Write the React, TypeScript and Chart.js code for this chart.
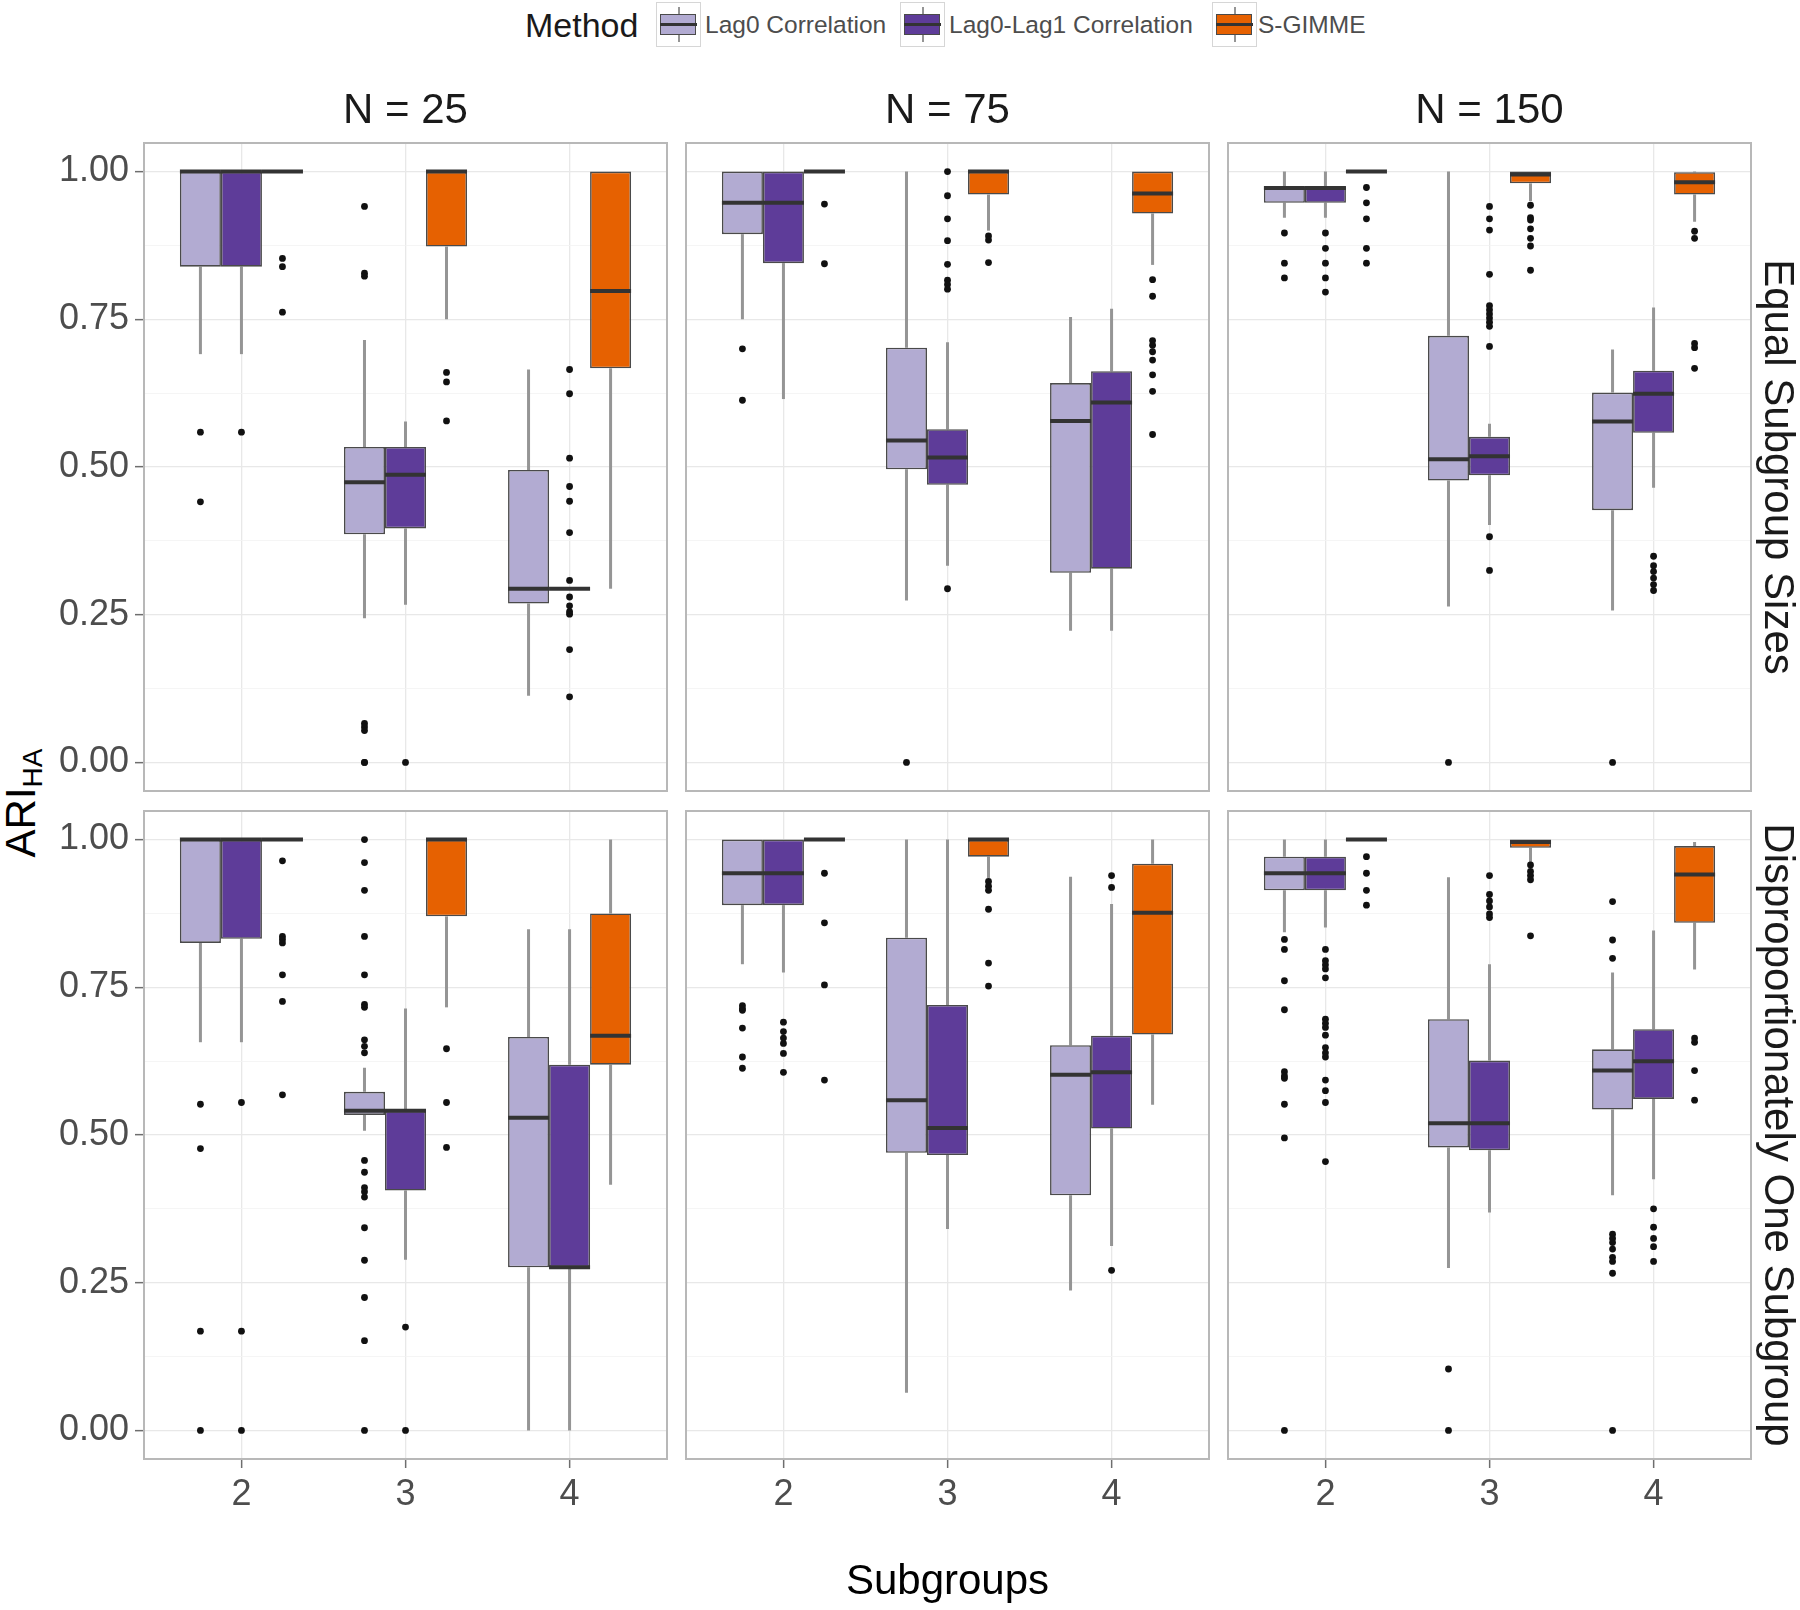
import React, { useEffect, useRef } from 'react';
import { Chart, registerables } from 'chart.js';

Chart.register(...registerables);

// ---------------- data ----------------
const subgroups = [2, 3, 4];
const methods = ['Lag0 Correlation', 'Lag0-Lag1 Correlation', 'S-GIMME'];
const sampleSizes = ['N = 25', 'N = 75', 'N = 150'];
const conditions = ['Equal Subgroup Sizes', 'Disproportionately One Subgroup'];
const yTickValues = [0, 0.125, 0.25, 0.375, 0.5, 0.625, 0.75, 0.875, 1];

// each entry per subgroup: [lower whisker, Q1, median, Q3, upper whisker]
// Equal subgroup sizes, N = 25
const eq25Lag0 = [[0.691, 0.839, 1, 1, 1], [0.244, 0.386, 0.474, 0.534, 0.715], [0.113, 0.269, 0.294, 0.495, 0.665]];
const eq25Lag0Out = [[0.559, 0.441], [0.941, 0.828, 0.823, 0.066, 0.06, 0.054, 0, 0], []];
const eq25Lag01 = [[0.691, 0.839, 1, 1, 1], [0.267, 0.396, 0.487, 0.534, 0.577], [0.294, 0.294, 0.294, 0.294, 0.294]];
const eq25Lag01Out = [[0.559], [0], [0.665, 0.624, 0.515, 0.467, 0.442, 0.389, 0.308, 0.28, 0.265, 0.255, 0.251, 0.191, 0.111]];
const eq25Sg = [[1, 1, 1, 1, 1], [0.75, 0.873, 1, 1, 1], [0.294, 0.667, 0.798, 1, 1]];
const eq25SgOut = [[0.853, 0.839, 0.762], [0.66, 0.644, 0.578], []];

// Equal subgroup sizes, N = 75
const eq75Lag0 = [[0.75, 0.894, 0.947, 1, 1], [0.274, 0.496, 0.545, 0.702, 1], [0.223, 0.321, 0.578, 0.642, 0.754]];
const eq75Lag0Out = [[0.7, 0.613], [0], []];
const eq75Lag01 = [[0.615, 0.845, 0.947, 1, 1], [0.333, 0.47, 0.516, 0.564, 0.711], [0.223, 0.328, 0.609, 0.662, 0.768]];
const eq75Lag01Out = [[], [1, 0.959, 0.92, 0.883, 0.843, 0.816, 0.809, 0.801, 0.294], []];
const eq75Sg = [[1, 1, 1, 1, 1], [0.9, 0.961, 1, 1, 1], [0.842, 0.929, 0.963, 1, 1]];
const eq75SgOut = [[0.945, 0.844], [0.891, 0.884, 0.846], [0.817, 0.789, 0.714, 0.706, 0.695, 0.681, 0.656, 0.628, 0.555]];

// Equal subgroup sizes, N = 150
const eq150Lag0 = [[0.922, 0.947, 0.972, 0.974, 1], [0.264, 0.477, 0.513, 0.722, 1], [0.257, 0.427, 0.577, 0.626, 0.699]];
const eq150Lag0Out = [[0.896, 0.845, 0.82], [0], [0]];
const eq150Lag01 = [[0.922, 0.947, 0.972, 0.974, 1], [0.402, 0.486, 0.518, 0.551, 0.573], [0.465, 0.558, 0.624, 0.663, 0.77]];
const eq150Lag01Out = [[0.896, 0.87, 0.845, 0.82, 0.796], [0.941, 0.92, 0.901, 0.826, 0.773, 0.766, 0.759, 0.752, 0.745, 0.738, 0.704, 0.382, 0.325], [0.349, 0.333, 0.323, 0.312, 0.301, 0.291]];
const eq150Sg = [[1, 1, 1, 1, 1], [0.95, 0.98, 0.995, 1, 1], [0.915, 0.961, 0.982, 0.999, 1]];
const eq150SgOut = [[0.973, 0.947, 0.92, 0.87, 0.845], [0.943, 0.922, 0.918, 0.903, 0.887, 0.874, 0.833], [0.899, 0.887, 0.709, 0.702, 0.667]];

// Disproportionately one subgroup, N = 25
const dp25Lag0 = [[0.657, 0.825, 1, 1, 1], [0.507, 0.534, 0.541, 0.573, 0.614], [0, 0.276, 0.529, 0.666, 0.848]];
const dp25Lag0Out = [[0.552, 0.477, 0.168, 0], [1, 0.961, 0.914, 0.836, 0.771, 0.721, 0.716, 0.661, 0.65, 0.639, 0.457, 0.437, 0.411, 0.404, 0.395, 0.343, 0.288, 0.225, 0.152, 0], []];
const dp25Lag01 = [[0.657, 0.832, 1, 1, 1], [0.289, 0.406, 0.541, 0.541, 0.714], [0, 0.276, 0.276, 0.619, 0.848]];
const dp25Lag01Out = [[0.555, 0.168, 0], [0.175, 0], []];
const dp25Sg = [[1, 1, 1, 1, 1], [0.716, 0.87, 1, 1, 1], [0.416, 0.619, 0.668, 0.875, 1]];
const dp25SgOut = [[0.964, 0.836, 0.831, 0.825, 0.771, 0.726, 0.568], [0.646, 0.555, 0.479], []];

// Disproportionately one subgroup, N = 75
const dp75Lag0 = [[0.789, 0.889, 0.943, 1, 1], [0.064, 0.47, 0.559, 0.834, 1], [0.237, 0.398, 0.602, 0.652, 0.937]];
const dp75Lag0Out = [[0.719, 0.714, 0.711, 0.681, 0.632, 0.613], [], []];
const dp75Lag01 = [[0.775, 0.889, 0.943, 1, 1], [0.341, 0.466, 0.512, 0.72, 1], [0.312, 0.511, 0.606, 0.668, 0.891]];
const dp75Lag01Out = [[0.691, 0.675, 0.664, 0.655, 0.638, 0.606], [], [0.939, 0.919, 0.271]];
const dp75Sg = [[1, 1, 1, 1, 1], [0.935, 0.971, 1, 1, 1], [0.551, 0.67, 0.876, 0.959, 1]];
const dp75SgOut = [[0.943, 0.859, 0.754, 0.593], [0.929, 0.921, 0.914, 0.882, 0.791, 0.752], []];

// Disproportionately one subgroup, N = 150
const dp150Lag0 = [[0.843, 0.914, 0.943, 0.971, 1], [0.275, 0.479, 0.52, 0.696, 0.936], [0.398, 0.543, 0.609, 0.645, 0.775]];
const dp150Lag0Out = [[0.831, 0.814, 0.761, 0.712, 0.607, 0.6, 0.596, 0.552, 0.495, 0], [0.104, 0], [0.895, 0.83, 0.799, 0.332, 0.325, 0.318, 0.307, 0.293, 0.286, 0.266, 0]];
const dp150Lag01 = [[0.851, 0.914, 0.943, 0.971, 1], [0.369, 0.474, 0.52, 0.626, 0.789], [0.425, 0.561, 0.625, 0.679, 0.846]];
const dp150Lag01Out = [[0.814, 0.795, 0.788, 0.781, 0.766, 0.696, 0.689, 0.682, 0.669, 0.648, 0.639, 0.632, 0.593, 0.575, 0.555, 0.455], [0.939, 0.907, 0.896, 0.886, 0.874, 0.868], [0.375, 0.344, 0.325, 0.311, 0.286]];
const dp150Sg = [[1, 1, 1, 1, 1], [0.96, 0.986, 0.996, 1, 1], [0.78, 0.859, 0.941, 0.989, 0.996]];
const dp150SgOut = [[0.971, 0.943, 0.914, 0.889], [0.957, 0.946, 0.939, 0.932, 0.837], [0.664, 0.657, 0.609, 0.559]];

const panels = [
  { row: 0, col: 0, stats: [eq25Lag0, eq25Lag01, eq25Sg], outs: [eq25Lag0Out, eq25Lag01Out, eq25SgOut] },
  { row: 0, col: 1, stats: [eq75Lag0, eq75Lag01, eq75Sg], outs: [eq75Lag0Out, eq75Lag01Out, eq75SgOut] },
  { row: 0, col: 2, stats: [eq150Lag0, eq150Lag01, eq150Sg], outs: [eq150Lag0Out, eq150Lag01Out, eq150SgOut] },
  { row: 1, col: 0, stats: [dp25Lag0, dp25Lag01, dp25Sg], outs: [dp25Lag0Out, dp25Lag01Out, dp25SgOut] },
  { row: 1, col: 1, stats: [dp75Lag0, dp75Lag01, dp75Sg], outs: [dp75Lag0Out, dp75Lag01Out, dp75SgOut] },
  { row: 1, col: 2, stats: [dp150Lag0, dp150Lag01, dp150Sg], outs: [dp150Lag0Out, dp150Lag01Out, dp150SgOut] },
];

// ---------------- style ----------------
const FONT = '"Liberation Sans", Arial, Helvetica, sans-serif';
const FILLS = ['#b2abd2', '#5e3c99', '#e66101'];
const OUTLINE = '#4a4a4a';
const MEDIAN = '#333333';
const WHISKER = '#959595';
const GRID_MAJOR = '#e8e8e8';
const GRID_MINOR = '#f3f3f3';
const TICK_COLOR = '#6e6e6e';
const TICK_TEXT = '#4d4d4d';
const STRIP_TEXT = '#1a1a1a';
const PANEL_BORDER = '#b8b8b8';

const COL_LEFT = [143, 685, 1227];
const ROW_TOP = [142, 810];
const PANEL_W = 525;
const PANEL_H = 650;
const Y_AXIS_W = 143;
const RIGHT_W = 50;
const TOP_H = 56;
const BOTTOM_H = 62;
const BOTTOM_TITLE_H = 148;
const DODGE = 0.25;

Chart.defaults.font.family = FONT;

const isMajor = (v: number) => Math.abs(v * 4 - Math.round(v * 4)) < 1e-6;

const fixSize = (a: any, w: number | null, h: number | null) => {
  if (w !== null) a.width = w;
  if (h !== null) a.height = h;
  a.paddingLeft = 0;
  a.paddingRight = 0;
  a.paddingTop = 0;
  a.paddingBottom = 0;
};

const boxParts = {
  id: 'boxParts',
  beforeDatasetsDraw(chart: any) {
    const ctx = chart.ctx;
    const ys = chart.scales.y;
    const ca = chart.chartArea;
    ctx.save();
    ctx.beginPath();
    ctx.rect(ca.left, ca.top, ca.right - ca.left, ca.bottom - ca.top);
    ctx.clip();
    chart.data.datasets.forEach((ds: any, di: number) => {
      if (!ds.stats) return;
      const meta = chart.getDatasetMeta(di);
      meta.data.forEach((el: any, i: number) => {
        const s = ds.stats[i];
        ctx.strokeStyle = WHISKER;
        ctx.lineWidth = 3;
        ctx.beginPath();
        ctx.moveTo(el.x, ys.getPixelForValue(s[0]));
        ctx.lineTo(el.x, ys.getPixelForValue(s[1]));
        ctx.moveTo(el.x, ys.getPixelForValue(s[3]));
        ctx.lineTo(el.x, ys.getPixelForValue(s[4]));
        ctx.stroke();
      });
    });
    ctx.restore();
  },
  afterDatasetDraw(chart: any, args: any) {
    const ds = chart.data.datasets[args.index];
    if (!ds || !ds.stats) return;
    const ctx = chart.ctx;
    const ys = chart.scales.y;
    const meta = chart.getDatasetMeta(args.index);
    ctx.save();
    meta.data.forEach((el: any, i: number) => {
      const s = ds.stats[i];
      const ym = ys.getPixelForValue(s[2]);
      ctx.strokeStyle = MEDIAN;
      ctx.lineWidth = 4;
      ctx.beginPath();
      ctx.moveTo(el.x - el.width / 2, ym);
      ctx.lineTo(el.x + el.width / 2, ym);
      ctx.stroke();
    });
    ctx.restore();
  },
  afterDraw(chart: any) {
    const { left, top, right, bottom } = chart.chartArea;
    const ctx = chart.ctx;
    ctx.save();
    ctx.strokeStyle = PANEL_BORDER;
    ctx.lineWidth = 2;
    ctx.strokeRect(left + 1, top + 1, right - left - 2, bottom - top - 2);
    ctx.restore();
  },
};

function Panel({ p }: any) {
  const ref = useRef<HTMLCanvasElement | null>(null);
  const { row, col } = p;
  const yW = col === 0 ? Y_AXIS_W : 0;
  const rW = col === 2 ? RIGHT_W : 0;
  const tH = row === 0 ? TOP_H : 0;
  const bH = row === 1 ? (col === 1 ? BOTTOM_TITLE_H : BOTTOM_H) : 0;
  const width = yW + PANEL_W + rW;
  const height = tH + PANEL_H + bH;
  const left = col === 0 ? 0 : COL_LEFT[col];
  const top = ROW_TOP[row] - tH;

  useEffect(() => {
    if (!ref.current) return;
    const datasets: any[] = [];
    methods.forEach((m, mi) => {
      const st = p.stats[mi];
      datasets.push({
        type: 'bar',
        label: m,
        stats: st,
        data: subgroups.map((s, i) => ({ x: s, y: [st[i][1], st[i][3]] })),
        backgroundColor: FILLS[mi],
        borderColor: OUTLINE,
        borderWidth: 1.6,
        borderSkipped: false,
        categoryPercentage: 0.75,
        barPercentage: 1,
        xAxisID: 'x',
        yAxisID: 'y',
      });
    });
    methods.forEach((m, mi) => {
      const pts: any[] = [];
      subgroups.forEach((s, i) => {
        p.outs[mi][i].forEach((v: number) => pts.push({ x: s + (mi - 1) * DODGE, y: v }));
      });
      datasets.push({
        type: 'scatter',
        label: m + ' outliers',
        data: pts,
        pointRadius: 3.4,
        pointHoverRadius: 3.4,
        pointStyle: 'circle',
        backgroundColor: '#111111',
        borderWidth: 0,
        xAxisID: 'x',
        yAxisID: 'y',
      });
    });

    const scales: any = {
      x: {
        type: 'linear',
        position: 'bottom',
        bounds: 'data',
        offset: false,
        min: 1.4,
        max: 4.6,
        afterBuildTicks: (a: any) => { a.ticks = subgroups.map((v) => ({ value: v })); },
        afterFit: (a: any) => fixSize(a, null, bH),
        grid: { offset: false, color: GRID_MAJOR, lineWidth: 1.3, drawTicks: row === 1, tickLength: 8, tickColor: TICK_COLOR, tickWidth: 1.5 },
        border: { display: false },
        ticks: { display: row === 1, padding: 5, color: TICK_TEXT, font: { size: 36 }, callback: (v: number) => String(v) },
        title: { display: row === 1 && col === 1, text: 'Subgroups', font: { size: 42 }, color: '#000000', padding: { top: 0, bottom: 0 } },
      },
      y: {
        type: 'linear',
        position: 'left',
        bounds: 'data',
        min: -0.05,
        max: 1.05,
        afterBuildTicks: (a: any) => { a.ticks = yTickValues.map((v) => ({ value: v })); },
        afterFit: (a: any) => fixSize(a, yW, null),
        grid: {
          color: (c: any) => (c.tick && isMajor(c.tick.value) ? GRID_MAJOR : GRID_MINOR),
          lineWidth: (c: any) => (c.tick && isMajor(c.tick.value) ? 1.3 : 0.8),
          drawTicks: col === 0,
          tickLength: 8,
          tickColor: (c: any) => (c.tick && isMajor(c.tick.value) ? TICK_COLOR : 'rgba(0,0,0,0)'),
          tickWidth: 1.5,
        },
        border: { display: false },
        ticks: {
          display: col === 0,
          autoSkip: false,
          padding: 6,
          color: TICK_TEXT,
          font: { size: 36 },
          callback: (v: number) => (isMajor(v) ? v.toFixed(2) : ''),
        },
      },
    };
    if (row === 0) {
      scales.xTop = {
        type: 'linear',
        position: 'top',
        offset: false,
        min: 1.4,
        max: 4.6,
        afterFit: (a: any) => fixSize(a, null, TOP_H),
        grid: { display: false, drawTicks: false },
        border: { display: false },
        ticks: { display: false },
        title: { display: true, text: sampleSizes[col], font: { size: 42 }, color: STRIP_TEXT, padding: 0 },
      };
    }
    if (col === 2) {
      scales.yRight = {
        type: 'linear',
        position: 'right',
        min: 0,
        max: 1,
        afterFit: (a: any) => fixSize(a, RIGHT_W, null),
        grid: { display: false, drawTicks: false },
        border: { display: false },
        ticks: { display: false },
        title: { display: true, text: conditions[row], font: { size: 42 }, color: STRIP_TEXT, padding: 0 },
      };
    }

    const chart = new Chart(ref.current, {
      type: 'bar',
      data: { datasets },
      options: {
        animation: false,
        responsive: false,
        devicePixelRatio: 1,
        events: [],
        layout: { padding: 0, autoPadding: false },
        plugins: { legend: { display: false }, tooltip: { enabled: false }, title: { display: false } },
        scales,
      } as any,
      plugins: [boxParts as any],
    });
    return () => chart.destroy();
  }, []);

  return (
    <canvas
      ref={ref}
      width={width}
      height={height}
      style={{ position: 'absolute', left, top, width, height }}
    />
  );
}

function LegendKey({ left, color }: any) {
  return (
    <div style={{ position: 'absolute', left, top: 2, width: 43, height: 43, border: '1px solid #d6d6d6', background: '#ffffff' }}>
      <div style={{ position: 'absolute', left: 20.5, top: 4, width: 2, height: 35, background: WHISKER }} />
      <div style={{ position: 'absolute', left: 3, top: 11, width: 34, height: 19, background: color, border: '1.5px solid ' + OUTLINE }} />
      <div style={{ position: 'absolute', left: 3, top: 20, width: 37, height: 3, background: MEDIAN }} />
    </div>
  );
}

export default function App() {
  const keyLefts = [656, 900, 1212];
  const labelLefts = [705, 949, 1258];
  return (
    <div style={{ position: 'absolute', left: 0, top: 0, width: 1800, height: 1610, background: '#ffffff', overflow: 'hidden', fontFamily: FONT }}>
      <div style={{ position: 'absolute', left: 525, top: 25, transform: 'translateY(-50%)', fontSize: 34, lineHeight: 1, color: STRIP_TEXT, whiteSpace: 'nowrap' }}>Method</div>
      {methods.map((m, i) => (
        <React.Fragment key={m}>
          <LegendKey left={keyLefts[i]} color={FILLS[i]} />
          <div style={{ position: 'absolute', left: labelLefts[i], top: 25, transform: 'translateY(-50%)', fontSize: 24.5, lineHeight: 1, color: TICK_TEXT, whiteSpace: 'nowrap' }}>{m}</div>
        </React.Fragment>
      ))}
      <div style={{ position: 'absolute', left: 23, top: 803, transform: 'translate(-50%, -50%) rotate(-90deg)', fontSize: 42, lineHeight: 1, color: '#000000', whiteSpace: 'nowrap' }}>
        ARI<sub style={{ fontSize: 28, verticalAlign: '-0.25em' }}>HA</sub>
      </div>
      {panels.map((p, i) => (
        <Panel key={i} p={p} />
      ))}
    </div>
  );
}
